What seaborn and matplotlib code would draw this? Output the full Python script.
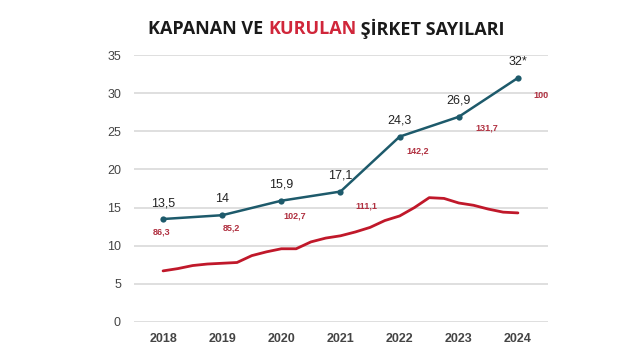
import matplotlib
matplotlib.use("Agg")
import matplotlib.pyplot as plt
import seaborn as sns
import pandas as pd

# veriler
years = [2018, 2019, 2020, 2021, 2022, 2023, 2024]
kapanan = [13.5, 14, 15.9, 17.1, 24.3, 26.9, 32]
kapanan_labels = ["13,5", "14", "15,9", "17,1", "24,3", "26,9", "32*"]
kurulan_labels = ["86,3", "85,2", "102,7", "111,1", "142,2", "131,7", "100"]

# kurulan (çeyreklik)
kurulan_t = [2018.0, 2018.25, 2018.5, 2018.75, 2019.0, 2019.25, 2019.5, 2019.75,
             2020.0, 2020.25, 2020.5, 2020.75, 2021.0, 2021.25, 2021.5, 2021.75,
             2022.0, 2022.25, 2022.5, 2022.75, 2023.0, 2023.25, 2023.5, 2023.75, 2024.0]
kurulan = [6.7, 7.0, 7.4, 7.6, 7.7, 7.8, 8.7, 9.2,
           9.6, 9.6, 10.5, 11.0, 11.3, 11.8, 12.4, 13.3,
           13.9, 15.0, 16.3, 16.2, 15.6, 15.3, 14.8, 14.4, 14.3]

df_k = pd.DataFrame({"yil": years, "deger": kapanan})
df_r = pd.DataFrame({"yil": kurulan_t, "deger": kurulan})

sns.set_style("white")
plt.rcParams["font.family"] = ["Liberation Sans", "DejaVu Sans"]

fig = plt.figure(figsize=(6.4, 3.6), dpi=100)
ax = fig.add_axes([133.5 / 640, 1 - 322 / 360, 414 / 640, 267 / 360])

blue = "#1d5a6b"
red = "#c0182a"

sns.lineplot(data=df_r, x="yil", y="deger", color=red, linewidth=2.0, ax=ax, clip_on=False)
sns.lineplot(data=df_k, x="yil", y="deger", color=blue, linewidth=1.8, marker="o",
             markersize=4.5, markeredgewidth=0, ax=ax, clip_on=False)

ax.set_xlim(2017.5, 2024.5)
ax.set_ylim(0, 35)
ax.set_yticks(range(0, 36, 5))
ax.set_xticks(years)
ax.grid(axis="y", color="#d9d9d9", linewidth=1.2)
ax.set_axisbelow(True)
sns.despine(ax=ax, left=True, bottom=True)
ax.tick_params(axis="both", length=0, labelsize=9, labelcolor="#444444")
ax.tick_params(axis="y", pad=9)
ax.tick_params(axis="x", pad=8)
for lab in ax.get_xticklabels():
    lab.set_fontweight("bold")
ax.set_xlabel("")
ax.set_ylabel("")

# etiketler
red_off = [(-2, -13), (9, -13), (13, -15), (26, -14), (18, -14), (28, -11), (23, -18)]
for x, y, lb in zip(years, kapanan, kapanan_labels):
    ax.annotate(lb, (x, y), xytext=(0, 10), textcoords="offset pixels",
                ha="center", va="bottom", fontsize=9, color="#222222")
for x, y, lb, off in zip(years, kapanan, kurulan_labels, red_off):
    ax.annotate(lb, (x, y), xytext=off, textcoords="offset pixels",
                ha="center", va="center", fontsize=6.5, fontweight="bold", color="#b03040")

# başlık (iki renkli)
parts = [("KAPANAN VE ", "#1a1a1a"), ("KURULAN", "#d0263a"), (" ŞİRKET SAYILARI", "#1a1a1a")]
renderer = fig.canvas.get_renderer()
texts = []
widths = []
for s, c in parts:
    t = fig.text(0, 1 - 29 / 360, s, color=c, fontsize=13, fontweight="bold",
                 family=["Open Sans", "DejaVu Sans"], va="center", ha="left")
    texts.append(t)
    widths.append(t.get_window_extent(renderer).width)
x0 = 148
for t, w in zip(texts, widths):
    t.set_x(x0 / 640)
    x0 += w

plt.savefig("out.png", dpi=100)
